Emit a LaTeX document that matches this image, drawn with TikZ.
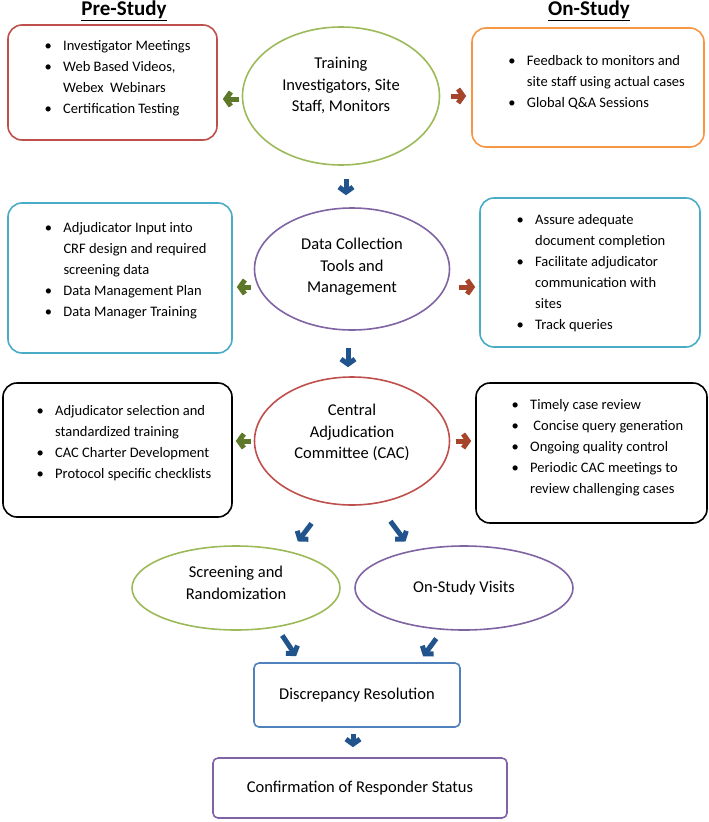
\documentclass[tikz,border=0pt]{standalone}
\usepackage{fontspec}
\setmainfont{Carlito}
\usetikzlibrary{arrows.meta,shapes.geometric}
\definecolor{rrqqqq}{rgb}{0.75,0.31,0.30}
\definecolor{ffqqqq}{rgb}{0.97,0.59,0.27}
\definecolor{qqccff}{rgb}{0.29,0.67,0.78}
\definecolor{wwccqq}{rgb}{0.61,0.73,0.35}
\definecolor{wwqqcc}{rgb}{0.50,0.39,0.64}
\definecolor{qqwwcc}{rgb}{0.31,0.51,0.74}
\definecolor{qqqqww}{rgb}{0.13,0.33,0.55}
\definecolor{qqwwqq}{rgb}{0.37,0.47,0.16}
\definecolor{wwqqqq}{rgb}{0.65,0.27,0.16}
\newcommand{\itemdot}{\makebox[6pt][c]{\textbullet}}
\renewcommand{\arraystretch}{1.2}

\begin{document}
\begin{tikzpicture}[line cap=round,line join=round,x=1pt,y=-1pt,
  txt/.style={font=\fontsize{14.5}{17.5}\selectfont},
  big/.style={font=\fontsize{16.5}{18}\selectfont},
  lst/.style={txt,inner sep=0pt,anchor=north west},
  box/.style={draw,line width=1.6pt,rounded corners=14pt,inner sep=0pt},
  ell/.style={draw,ellipse,line width=1.6pt,inner sep=0pt,big},
  blarr/.style={color=qqqqww,line width=5pt,line cap=butt,-{Straight Barb[length=5pt,width=14pt]}},
  grarr/.style={blarr,color=qqwwqq},
  rdarr/.style={blarr,color=wwqqqq}]
\useasboundingbox (0,0) rectangle (709,822);
% headings
\node (pre) at (124,11) {\fontsize{21}{24}\selectfont\bfseries\underline{Pre-Study}};
\node (on) at (589,11) {\fontsize{21}{24}\selectfont\bfseries\underline{On-Study}};
% row 1
\node[ell,color=wwccqq,text=black,minimum width=197pt,minimum height=138pt] (train) at (341,96)
  {\begin{tabular}{@{}c@{}}Training\\Investigators, Site\\Staff, Monitors\\[20pt]\end{tabular}};
\node[box,color=rrqqqq,minimum width=209pt,minimum height=115pt] (preA) at (112.5,82.5) {};
\node[box,color=ffqqqq,minimum width=232pt,minimum height=119pt] (onA) at (588,87.5) {};
\node[lst] (preAtxt) at (45,35.5) {\begin{tabular}{@{}l@{\hspace{12pt}}l@{}}
  \itemdot & Investigator Meetings\\
  \itemdot & Web Based Videos,\\
  & Webex\ \ Webinars\\
  \itemdot & Certification Testing
  \end{tabular}};
\node[lst] (onAtxt) at (508.7,50.5) {\begin{tabular}{@{}l@{\hspace{12pt}}l@{}}
  \itemdot & Feedback to monitors and\\
  & site staff using actual cases\\
  \itemdot & Global Q\&A Sessions
  \end{tabular}};
% row 2
\node[ell,color=wwqqcc,text=black,minimum width=195pt,minimum height=122pt] (dcm) at (352,269)
  {\begin{tabular}{@{}c@{}}Data Collection\\Tools and\\Management\\[4pt]\end{tabular}};
\node[box,color=qqccff,minimum width=224pt,minimum height=150pt] (dcmL) at (120,278) {};
\node[box,color=qqccff,minimum width=220pt,minimum height=149pt] (dcmR) at (590,272.5) {};
\node[lst] (dcmLtxt) at (45.3,217.5) {\begin{tabular}{@{}l@{\hspace{12pt}}l@{}}
  \itemdot & Adjudicator Input into\\
  & CRF design and required\\
  & screening data\\
  \itemdot & Data Management Plan\\
  \itemdot & Data Manager Training
  \end{tabular}};
\node[lst] (dcmRtxt) at (517,209.5) {\begin{tabular}{@{}l@{\hspace{12pt}}l@{}}
  \itemdot & Assure adequate\\
  & document completion\\
  \itemdot & Facilitate adjudicator\\
  & communication with\\
  & sites\\
  \itemdot & Track queries
  \end{tabular}};
% row 3
\node[ell,color=rrqqqq,text=black,minimum width=195pt,minimum height=128pt] (cac) at (352,441)
  {\begin{tabular}{@{}c@{}}Central\\Adjudication\\Committee (CAC)\\[16pt]\end{tabular}};
\node[box,color=black,minimum width=229pt,minimum height=134pt] (cacL) at (117.5,450) {};
\node[box,color=black,minimum width=231pt,minimum height=140pt] (cacR) at (591.5,453) {};
\node[lst] (cacLtxt) at (37,400.5) {\begin{tabular}{@{}l@{\hspace{12pt}}l@{}}
  \itemdot & Adjudicator selection and\\
  & standardized training\\
  \itemdot & CAC Charter Development\\
  \itemdot & Protocol specific checklists
  \end{tabular}};
\node[lst] (cacRtxt) at (512,394.5) {\begin{tabular}{@{}l@{\hspace{12pt}}l@{}}
  \itemdot & Timely case review\\
  \itemdot & \ Concise query generation\\
  \itemdot & Ongoing quality control\\
  \itemdot & Periodic CAC meetings to\\
  & review challenging cases
  \end{tabular}};
% row 4
\node[ell,color=wwccqq,text=black,minimum width=208pt,minimum height=84pt] (screen) at (236,588)
  {\begin{tabular}{@{}c@{}}Screening and\\Randomization\\[8pt]\end{tabular}};
\node[ell,color=wwqqcc,text=black,minimum width=218pt,minimum height=84pt] (visits) at (464,588)
  {On-Study Visits};
\node[box,big,color=qqwwcc,text=black,rounded corners=5pt,minimum width=206pt,minimum height=64pt] (disc) at (357,695)
  {Discrepancy Resolution};
\node[box,big,color=wwqqcc,text=black,rounded corners=5pt,minimum width=294pt,minimum height=60pt] (confirm) at (360,788)
  {Confirmation of Responder Status};
% arrows
\draw[grarr,shorten <=2.5pt,shorten >=5pt] ([yshift=-3pt]train.west) -- ([yshift=-3pt]train.west -| preA.east);
\draw[rdarr,shorten <=10.5pt,shorten >=5pt] (train.east) -- (train.east -| onA.west);
\draw[blarr,shorten <=13pt,shorten >=12pt] ([xshift=5pt]train.south) -- ([xshift=5pt]train.south |- dcm.north);
\draw[grarr,shorten <=2.5pt,shorten >=4pt] ([yshift=-18pt]dcm.west) -- ([yshift=-18pt]dcm.west -| dcmL.east);
\draw[rdarr,shorten <=8.5pt,shorten >=4pt] ([yshift=-18pt]dcm.east) -- ([yshift=-18pt]dcm.east -| dcmR.west);
\draw[blarr,shorten <=17pt,shorten >=9pt] ([xshift=-4pt]dcm.south) -- ([xshift=-4pt]dcm.south |- cac.north);
\draw[grarr,shorten <=2.5pt,shorten >=3pt] (cac.west) -- (cac.west -| cacL.east);
\draw[rdarr,shorten <=5.5pt,shorten >=4pt] (cac.east) -- (cac.east -| cacR.west);
\draw[blarr,shorten <=25pt,shorten >=12.5pt] (cac.248) -- (screen.34);
\draw[blarr,shorten <=22pt,shorten >=11pt] (cac.292) -- (visits.144);
\draw[blarr,shorten <=9.7pt,shorten >=7.3pt] (screen.316) -- ([xshift=47pt]disc.north west);
\draw[blarr,shorten <=10.7pt,shorten >=7.3pt] (visits.243) -- ([xshift=-42pt]disc.north east);
\draw[blarr,shorten <=6pt,shorten >=10pt] ([xshift=-4pt]disc.south) -- ([xshift=-4pt]disc.south |- confirm.north);
\end{tikzpicture}
\end{document}
